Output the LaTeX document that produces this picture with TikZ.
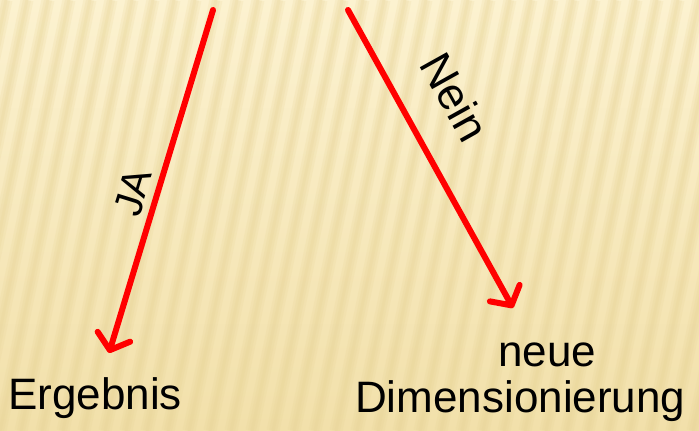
\documentclass[tikz,border=0pt]{standalone}
\usepackage{fontspec}
\setmainfont{Liberation Sans}
\usetikzlibrary{arrows.meta}
\definecolor{bgbase}{RGB}{251,238,198}
\definecolor{bgstripe}{RGB}{230,210,148}
\definecolor{bgtop}{RGB}{252,242,208}
\definecolor{bgbottom}{RGB}{242,224,170}
\definecolor{arrowred}{RGB}{255,0,0}
\tikzset{
  redarrow/.style={draw=arrowred, line width=6pt, line cap=round,
    -{Straight Barb[length=14pt,width=34pt,line width=6pt,round]}},
  lbl/.style={inner sep=0pt, text=black, font=\fontsize{44}{50}\selectfont},
  armlbl/.style={inner sep=0pt, text=black, font=\fontsize{40}{46}\selectfont},
}
\begin{document}
\begin{tikzpicture}[x=1pt,y=1pt]
\useasboundingbox (0,0) rectangle (699,431);
\shade[top color=bgtop, bottom color=bgbottom] (0,0) rectangle (699,431);
\begin{scope}
\clip (0,0) rectangle (699,431);
\foreach \i in {-8,...,36} {
  \draw[bgstripe, line width=13pt, opacity=0.18] (\i*21,0) -- (\i*21+90,431);
  \draw[bgstripe, line width=8pt, opacity=0.2] (\i*21,0) -- (\i*21+90,431);
  \draw[bgstripe, line width=3pt, opacity=0.2] (\i*21,0) -- (\i*21+90,431);
}
\end{scope}
\coordinate (s1) at (213,421);
\coordinate (e1) at (109,78);
\coordinate (s2) at (348,421);
\coordinate (e2) at (513,123);
\draw[redarrow] (s1) -- (e1);
\draw[redarrow] (s2) -- (e2);
\node[armlbl, rotate=72.8] (ja) at (133,239) {JA};
\node[armlbl, rotate=-60.8, font=\fontsize{45}{50}\selectfont] (nein) at (455,334) {Nein};
\node[lbl, anchor=base west] (erg) at (8,21) {Ergebnis};
\node[lbl, anchor=base west] (neue) at (498,64) {neue};
\node[lbl, anchor=base west] (dim) at (355,18) {Dimensionierung};
\end{tikzpicture}
\end{document}
